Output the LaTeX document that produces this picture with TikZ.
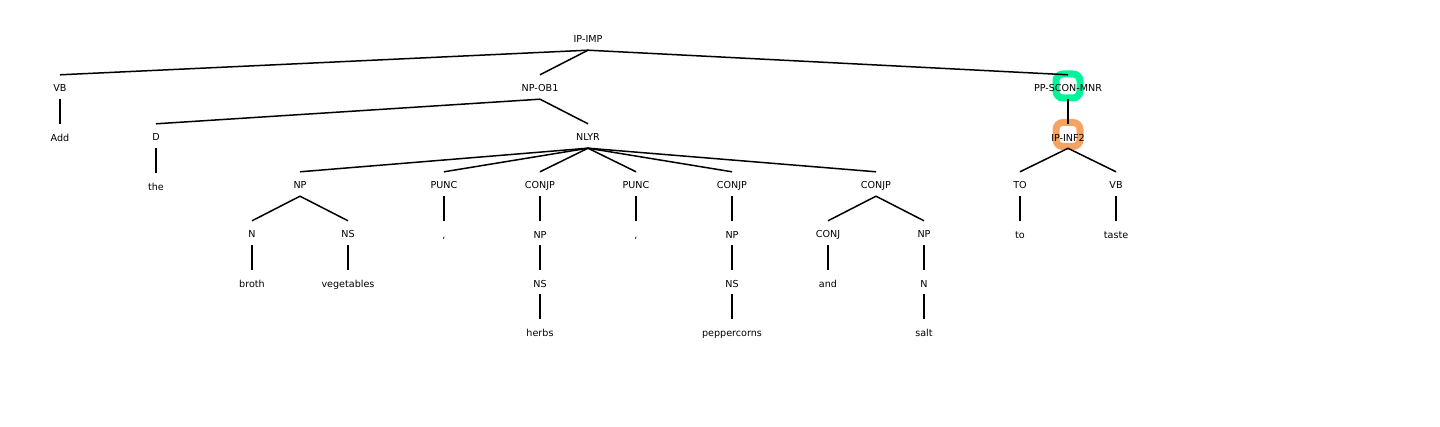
\documentclass[tikz,border=0pt]{standalone}
\usepackage{fontspec}
\setmainfont{DejaVu Sans}
\usetikzlibrary{positioning}
\definecolor{markgreen}{HTML}{00F59A}
\definecolor{markorange}{HTML}{F4A460}

\begin{document}
\begin{tikzpicture}[
  x=1pt, y=-1pt,
  font=\fontsize{9.6}{11}\selectfont,
  node distance=24.7pt,
  tag/.style={inner sep=0pt, minimum height=24pt, text height=10pt, text depth=0pt},
  edge/.style={line width=1.5pt, black},
  ring/.style={rounded corners=7pt, line width=7pt, minimum size=24pt, inner sep=0pt},
]
\useasboundingbox (0,0) rectangle (1440,427);
% --- highlight rings (behind everything) ---
\node[ring, draw=markgreen] (ppmark) at (1068,86) {};
\node[ring, draw=markorange] (infmark) at (1068,134.5) {};
% --- level 0/1 ---
\node[tag] (ip) at (588,38) {IP-IMP};
\node[tag] (vb) at (60,87) {VB};
\node[tag, below=of vb] (add) {Add};
\node[tag] (npob) at (540,87) {NP-OB1};
\node[tag] (pp) at (1068,87) {PP-SCON-MNR};
% --- level 2 ---
\node[tag] (d) at (156,136) {D};
\node[tag, below=of d] (the) {the};
\node[tag] (nlyr) at (588,136) {NLYR};
\node[tag, below=of pp] (inf) {IP-INF2};
% --- level 3: conjuncts of NLYR ---
\node[tag] (np) at (300,184) {NP};
\node[tag] (n) at (252,233) {N};
\node[tag, below=of n] (broth) {broth};
\node[tag] (ns) at (348,233) {NS};
\node[tag, below=of ns] (veg) {vegetables};
\node[tag] (puncA) at (444,184) {PUNC};
\node[tag, below=of puncA] (comA) {,};
\node[tag] (conjA) at (540,184) {CONJP};
\node[tag, below=of conjA] (npA) {NP};
\node[tag, below=of npA] (nsA) {NS};
\node[tag, below=of nsA] (herbs) {herbs};
\node[tag] (puncB) at (636,184) {PUNC};
\node[tag, below=of puncB] (comB) {,};
\node[tag] (conjB) at (732,184) {CONJP};
\node[tag, below=of conjB] (npB) {NP};
\node[tag, below=of npB] (nsB) {NS};
\node[tag, below=of nsB] (pepper) {peppercorns};
\node[tag] (conjC) at (876,184) {CONJP};
\node[tag] (conj) at (828,233) {CONJ};
\node[tag, below=of conj] (and) {and};
\node[tag] (npC) at (924,233) {NP};
\node[tag, below=of npC] (nC) {N};
\node[tag, below=of nC] (salt) {salt};
% --- level 3: infinitive ---
\node[tag] (toA) at (1020,184) {TO};
\node[tag, below=of toA] (toW) {to};
\node[tag] (vbB) at (1116,184) {VB};
\node[tag, below=of vbB] (taste) {taste};
% --- branches ---
\draw[edge] (ip.south) -- (vb.north);
\draw[edge] (ip.south) -- (npob.north);
\draw[edge] (ip.south) -- (pp.north);
\draw[edge] (vb.south) -- (add.north);
\draw[edge] (npob.south) -- (d.north);
\draw[edge] (npob.south) -- (nlyr.north);
\draw[edge] (d.south) -- (the.north);
\draw[edge] (pp.south) -- (inf.north);
\draw[edge] (nlyr.south) -- (np.north);
\draw[edge] (nlyr.south) -- (puncA.north);
\draw[edge] (nlyr.south) -- (conjA.north);
\draw[edge] (nlyr.south) -- (puncB.north);
\draw[edge] (nlyr.south) -- (conjB.north);
\draw[edge] (nlyr.south) -- (conjC.north);
\draw[edge] (np.south) -- (n.north);
\draw[edge] (np.south) -- (ns.north);
\draw[edge] (n.south) -- (broth.north);
\draw[edge] (ns.south) -- (veg.north);
\draw[edge] (puncA.south) -- (comA.north);
\draw[edge] (conjA.south) -- (npA.north);
\draw[edge] (npA.south) -- (nsA.north);
\draw[edge] (nsA.south) -- (herbs.north);
\draw[edge] (puncB.south) -- (comB.north);
\draw[edge] (conjB.south) -- (npB.north);
\draw[edge] (npB.south) -- (nsB.north);
\draw[edge] (nsB.south) -- (pepper.north);
\draw[edge] (conjC.south) -- (conj.north);
\draw[edge] (conjC.south) -- (npC.north);
\draw[edge] (conj.south) -- (and.north);
\draw[edge] (npC.south) -- (nC.north);
\draw[edge] (nC.south) -- (salt.north);
\draw[edge] (inf.south) -- (toA.north);
\draw[edge] (inf.south) -- (vbB.north);
\draw[edge] (toA.south) -- (toW.north);
\draw[edge] (vbB.south) -- (taste.north);
\end{tikzpicture}
\end{document}
